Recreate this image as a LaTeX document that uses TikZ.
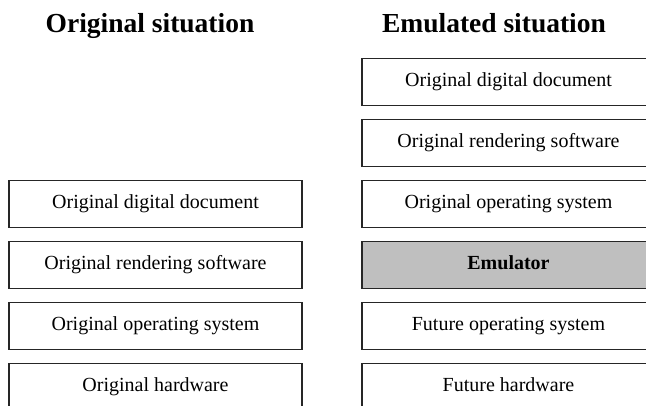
\documentclass[tikz,border=0pt]{standalone}
\usepackage{fontspec}
\setmainfont{Liberation Serif}
\usetikzlibrary{positioning}

\begin{document}
\begin{tikzpicture}[x=1pt,y=-1pt]
  \clip (0,0) rectangle (646,406);
  \begin{scope}[
    every node/.style={
      anchor=base,
      font=\fontsize{27.5}{33}\selectfont\bfseries,
    },
    ]
    % titles
    \node (origtitle) at (150,33) {Original situation};
    \node (emultitle) at (494,33) {Emulated situation};
  \end{scope}
  \begin{scope}[
    every node/.style={
      rectangle,
      draw=black!85,
      line width=1.2pt,
      minimum width=293pt,
      minimum height=47pt,
      inner sep=0pt,
      text height=14pt,
      text depth=4pt,
      font=\fontsize{20}{24}\selectfont,
    },
    emulbox/.style={
      fill=black!25,
      font=\fontsize{20}{24}\selectfont\bfseries,
    },
    ]
    % Original situation
    \node (odoc) at (155.5,204) {Original digital document};
    \node [below=12.8pt of odoc] (osoft) {Original rendering software};
    \node [below=12.8pt of osoft] (oos) {Original operating system};
    \node [below=12.8pt of oos] (ohw) {Original hardware};

    % Emulated situation
    \node (edoc) at (508.5,82) {Original digital document};
    \node [below=12.8pt of edoc] (esoft) {Original rendering software};
    \node [below=12.8pt of esoft] (eos) {Original operating system};
    \node [below=12.8pt of eos,emulbox] (emul) {Emulator};
    \node [below=12.8pt of emul] (fos) {Future operating system};
    \node [below=12.8pt of fos] (fhw) {Future hardware};
  \end{scope}
\end{tikzpicture}
\end{document}
